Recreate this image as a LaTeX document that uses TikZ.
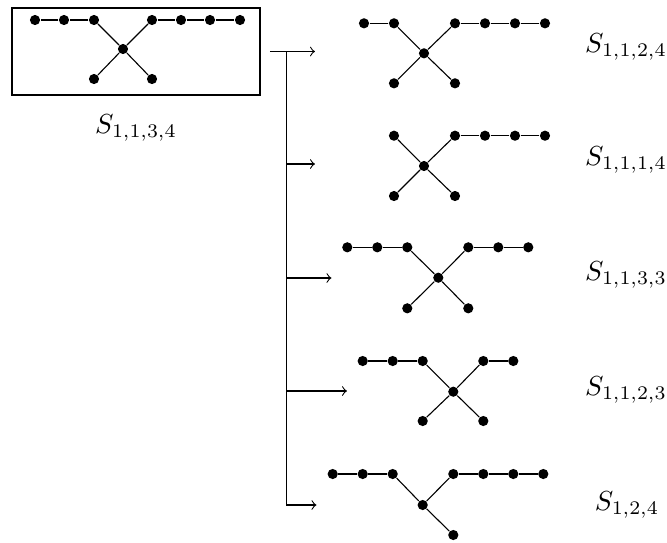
\documentclass[tikz,border=0pt]{standalone}
\usetikzlibrary{fit}
\begin{document}
\begin{tikzpicture}[x=0.3636pt,y=-0.3636pt,
  vtx/.style={circle,fill=black,inner sep=0pt,minimum size=3.7pt},
  edge/.style={line width=0.4pt},
  framebox/.style={draw,line width=0.8pt,inner sep=0pt},
  trunk/.style={line width=0.6pt},
  branch/.style={line width=0.4pt,->},
  lbl/.style={inner sep=0pt}]
\useasboundingbox (0,0) rectangle (667,542);
% main graph S_{1,1,3,4}
\foreach \n/\x/\y in {c/123/49, l1/94/20, l2/64/20, l3/35/20, r1/152/20, r2/181/20, r3/210/20, r4/240/20, bl/94/79, br/152/79}
  \node[vtx] (m-\n) at (\x,\y) {};
\foreach \u/\v in {c/l1, l1/l2, l2/l3, c/r1, r1/r2, r2/r3, r3/r4, c/bl, c/br}
  \draw[edge] (m-\u) -- (m-\v);
\coordinate (bx1) at (12,8);
\coordinate (bx2) at (260,95);
\node[framebox,fit=(bx1)(bx2)] (box) {};
\node[lbl] (mlab) at (136,128) {$S_{1,1,3,4}$};
% connectors
\coordinate (t0) at (270,51.5);
\coordinate (tj) at (286.5,51.5);
\coordinate (tb) at (286.5,505);
\coordinate (b2) at (286.5,164);
\coordinate (b3) at (286.5,278);
\coordinate (b4) at (286.5,391);
\coordinate (e1) at (315,51.5);
\coordinate (e2) at (315,164);
\coordinate (e3) at (331.5,278);
\coordinate (e4) at (347,391);
\coordinate (e5) at (316.5,505);
\draw[trunk] (tj) -- (tb);
\draw[branch] (t0) -- (e1);
\draw[branch] (b2) -- (e2);
\draw[branch] (b3) -- (e3);
\draw[branch] (b4) -- (e4);
\draw[branch] (tb) -- (e5);
% graph 1: S_{1,1,2,4}
\foreach \n/\x/\y in {c/424/53.3, l1/394/23.3, l2/364/23.3, r1/455/23.3, r2/485/23.3, r3/515/23.3, r4/545/23.3, bl/394/83.3, br/455/83.3}
  \node[vtx] (a-\n) at (\x,\y) {};
\foreach \u/\v in {c/l1, l1/l2, c/r1, r1/r2, r2/r3, r3/r4, c/bl, c/br}
  \draw[edge] (a-\u) -- (a-\v);
\node[lbl] (alab) at (626,47) {$S_{1,1,2,4}$};
% graph 2: S_{1,1,1,4}
\foreach \n/\x/\y in {c/424/166, l1/394/135.7, r1/455/135.7, r2/485/135.7, r3/515/135.7, r4/545/135.7, bl/394/196, br/455/196}
  \node[vtx] (b-\n) at (\x,\y) {};
\foreach \u/\v in {c/l1, c/r1, r1/r2, r2/r3, r3/r4, c/bl, c/br}
  \draw[edge] (b-\u) -- (b-\v);
\node[lbl] (blab) at (626,160) {$S_{1,1,1,4}$};
% graph 3: S_{1,1,3,3}
\foreach \n/\x/\y in {c/438.3/277.7, l1/407.3/247.3, l2/377.3/247.3, l3/347.3/247.3, r1/468.3/247.3, r2/498.3/247.3, r3/528.3/247.3, bl/407.3/308.3, br/468.3/308.3}
  \node[vtx] (c-\n) at (\x,\y) {};
\foreach \u/\v in {c/l1, l1/l2, l2/l3, c/r1, r1/r2, r2/r3, c/bl, c/br}
  \draw[edge] (c-\u) -- (c-\v);
\node[lbl] (clab) at (626,275) {$S_{1,1,3,3}$};
% graph 4: S_{1,1,2,3}
\foreach \n/\x/\y in {c/453.3/391.7, l1/422.7/361, l2/392.7/361, l3/362.7/361, r1/483.3/361, r2/513.3/361, bl/422.7/421, br/483.3/421}
  \node[vtx] (d-\n) at (\x,\y) {};
\foreach \u/\v in {c/l1, l1/l2, l2/l3, c/r1, r1/r2, c/bl, c/br}
  \draw[edge] (d-\u) -- (d-\v);
\node[lbl] (dlab) at (626,390) {$S_{1,1,2,3}$};
% graph 5: S_{1,2,4}
\foreach \n/\x/\y in {c/422.7/505, l1/392.7/474, l2/362.7/474, l3/332.7/474, r1/453.3/474, r2/483.3/474, r3/513.3/474, r4/543.3/474, br/453.3/535}
  \node[vtx] (f-\n) at (\x,\y) {};
\foreach \u/\v in {c/l1, l1/l2, l2/l3, c/r1, r1/r2, r2/r3, r3/r4, c/br}
  \draw[edge] (f-\u) -- (f-\v);
\node[lbl] (flab) at (627,505) {$S_{1,2,4}$};
\end{tikzpicture}
\end{document}
